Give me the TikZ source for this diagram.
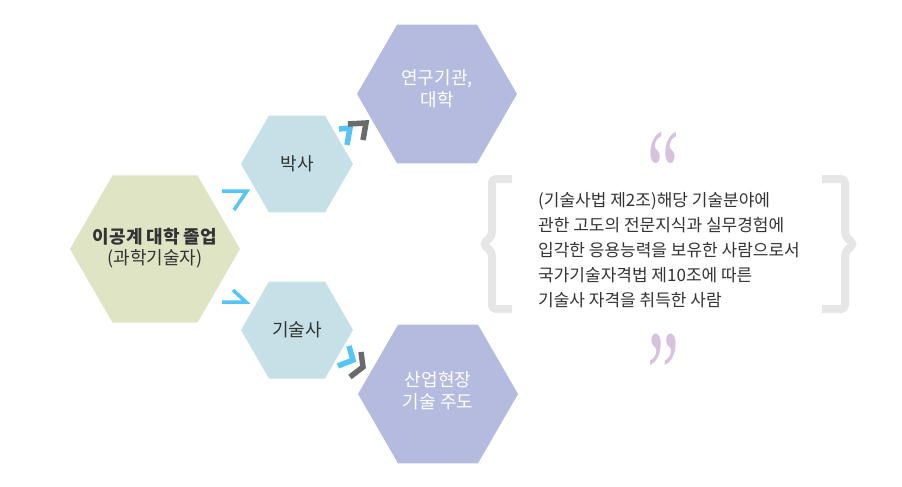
\documentclass[tikz,border=0pt]{standalone}
\usepackage{fontspec}
\usetikzlibrary{shapes.geometric}
\setmainfont{Noto Sans CJK KR}
\newfontfamily\quotefont{Liberation Serif}
\definecolor{hexgreen}{HTML}{DFE4C5}
\definecolor{hexblue}{HTML}{C5E0E6}
\definecolor{hexpurple}{HTML}{B5BBDF}
\definecolor{chevblue}{HTML}{55C5F5}
\definecolor{chevgray}{HTML}{6A6A6A}
\definecolor{quotelilac}{HTML}{D5C3DE}
\definecolor{bracegray}{HTML}{E6E6E6}
\definecolor{txt}{HTML}{333333}
\tikzset{
  hexa/.style={regular polygon, regular polygon sides=6, inner sep=0pt, outer sep=0pt, draw=none},
  bighex/.style={hexa, minimum size=170pt},
  midhex/.style={hexa, minimum size=112pt},
  purhex/.style={hexa, minimum size=160pt, fill=hexpurple},
  hextext/.style={align=center, text=txt, inner sep=0pt},
  purtext/.style={align=center, text=white, inner sep=0pt, font=\fontsize{18}{21.5}\selectfont},
  chevs/.style={line width=3.5pt, line join=miter, line cap=butt},
  chevb/.style={line width=5.5pt, line join=miter, line cap=butt},
  bracestyle/.style={draw=bracegray, line width=8pt, rounded corners=4pt},
  quotestyle/.style={text=quotelilac, inner sep=0pt, anchor=base, font=\quotefont\fontsize{72}{72}\selectfont},
  bodytext/.style={align=left, text=txt, inner sep=0pt, anchor=north west, font=\fontsize{17}{25}\selectfont}
}
\begin{document}
\begin{tikzpicture}[x=1pt,y=-1pt]
\useasboundingbox (0,0) rectangle (902,487);
% hexagons
\node[bighex, fill=hexgreen] (grad) at (155,249) {};
\node[midhex, fill=hexblue] (phd) at (297,164) {};
\node[midhex, fill=hexblue] (pe) at (297,330) {};
\node[purhex] (inst) at (437,94) {};
\node[purhex] (ind) at (438,394) {};
% hexagon texts
\node[hextext, font=\fontsize{18}{20.5}\selectfont] (gradtxt) at ([yshift=1pt]grad.center) {{\bfseries 이공계 대학 졸업}\\(과학기술자)};
\node[hextext, font=\fontsize{18}{20}\selectfont] (phdtxt) at (phd.center) {박사};
\node[hextext, font=\fontsize{18}{20}\selectfont] (petxt) at (pe.center) {기술사};
\node[purtext] (insttxt) at ([yshift=5pt]inst.center) {연구기관,\\대학};
\node[purtext] (indtxt) at ([yshift=3pt]ind.center) {산업현장\\기술 주도};
% small chevrons
\coordinate (c1a) at (222,191); \coordinate (c1b) at (247,191); \coordinate (c1c) at (234,210);
\draw[chevs, chevblue] (c1a) -- (c1b) -- (c1c);
\coordinate (c2a) at (233,290); \coordinate (c2b) at (246,302); \coordinate (c2c) at (222,302);
\draw[chevs, chevblue] (c2a) -- (c2b) -- (c2c);
% double chevrons upper
\coordinate (d1a) at (339,129); \coordinate (d1b) at (350,128); \coordinate (d1c) at (347,145);
\draw[chevb, chevblue] (d1a) -- (d1b) -- (d1c);
\coordinate (d2a) at (348,124); \coordinate (d2b) at (366,123); \coordinate (d2c) at (363,140);
\draw[chevb, chevgray] (d2a) -- (d2b) -- (d2c);
% double chevrons lower
\coordinate (e1a) at (349,346); \coordinate (e1b) at (353,360); \coordinate (e1c) at (338,366);
\draw[chevb, chevblue] (e1a) -- (e1b) -- (e1c);
\coordinate (e2a) at (361,352); \coordinate (e2b) at (363,367); \coordinate (e2c) at (350,377);
\draw[chevb, chevgray] (e2a) -- (e2b) -- (e2c);
% braces
\draw[bracestyle] (512,179) -- (492,179) -- (492,236) -- (483,244) -- (492,252) -- (492,309) -- (512,309);
\draw[bracestyle] (822,179) -- (845,179) -- (845,236) -- (854,244) -- (845,252) -- (845,309) -- (822,309);
% quotes
\node[quotestyle] (qopen) at (663,160) {\raisebox{-53pt}[30pt][0pt]{\scalebox{1}[1.7]{“}}};
\node[quotestyle] (qclose) at (663,362) {\raisebox{-53pt}[30pt][0pt]{\scalebox{1}[1.7]{”}}};
% body text
\node[bodytext] (body) at (538,192) {(기술사법 제2조)해당 기술분야에\\관한 고도의 전문지식과 실무경험에\\입각한 응용능력을 보유한 사람으로서\\국가기술자격법 제10조에 따른\\기술사 자격을 취득한 사람};
\end{tikzpicture}
\end{document}
